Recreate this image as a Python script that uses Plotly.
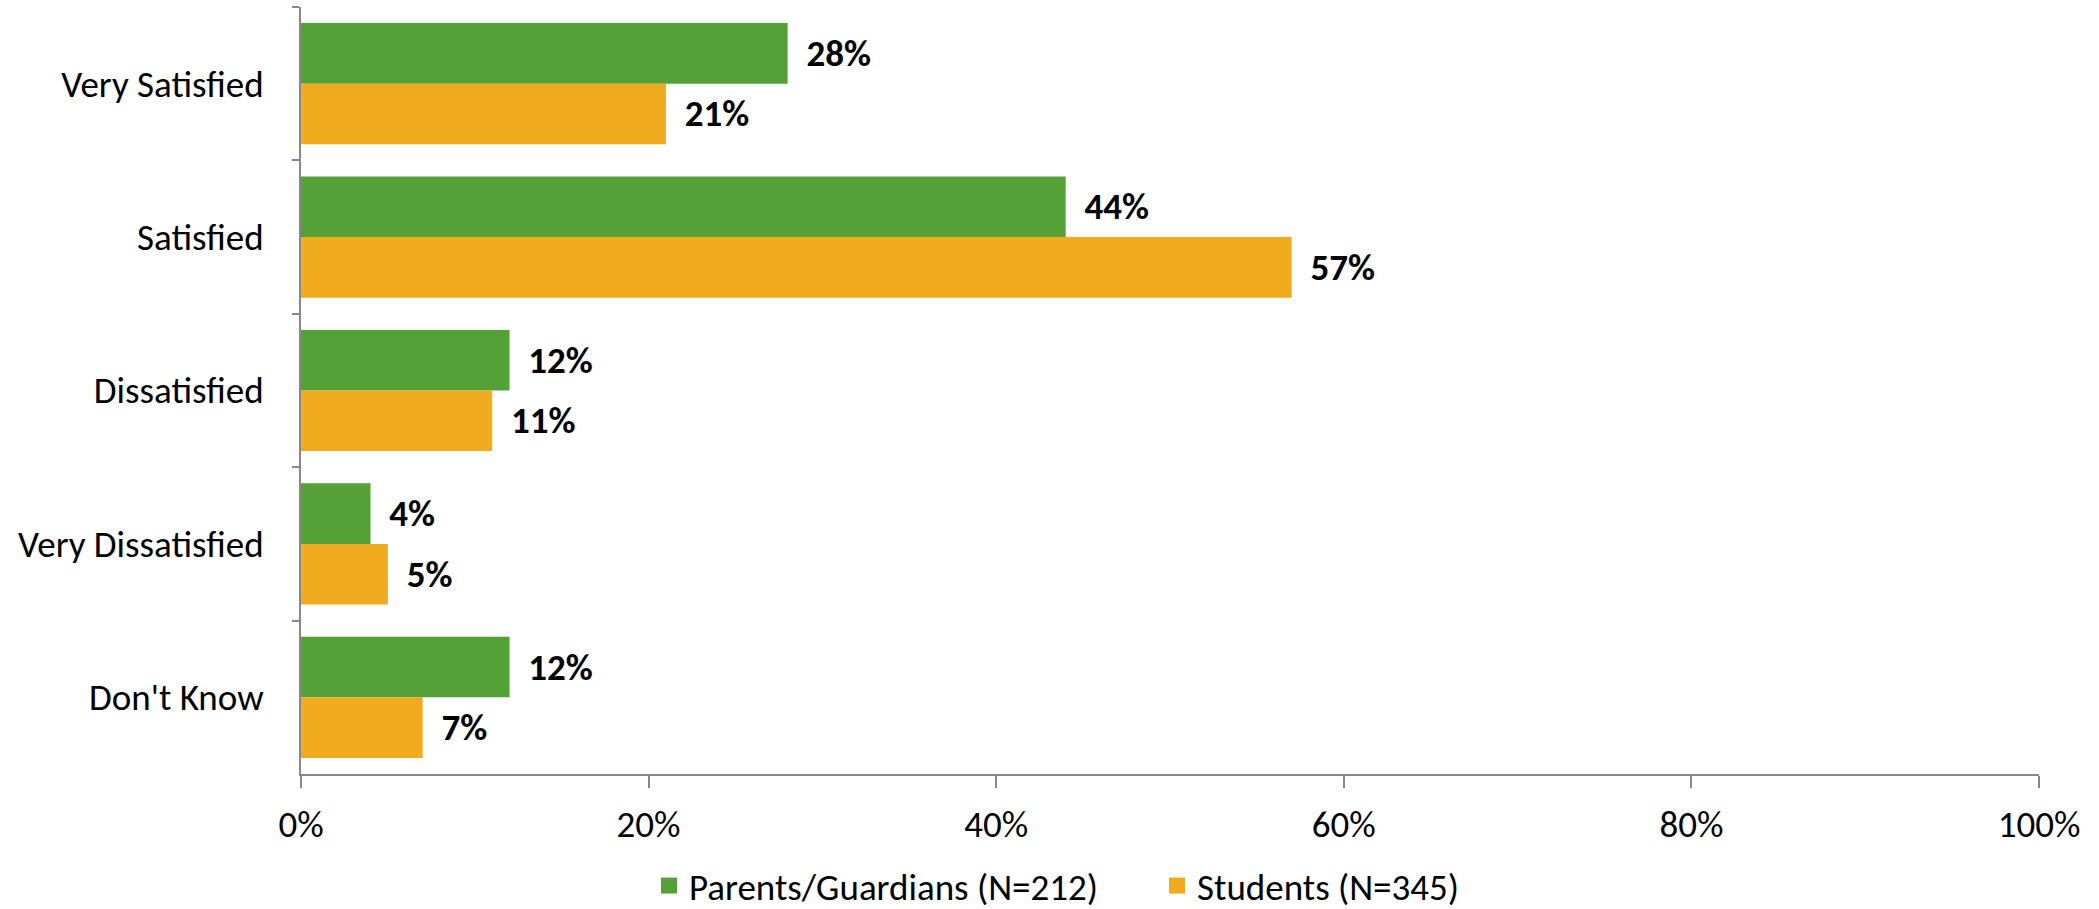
import plotly.graph_objects as go

categories = ["Very Satisfied", "Satisfied", "Dissatisfied", "Very Dissatisfied", "Don't Know"]
parents = [0.28, 0.44, 0.12, 0.04, 0.12]
students = [0.21, 0.57, 0.11, 0.05, 0.07]
series_names = ["Parents/Guardians (N=212)", "Students (N=345)"]
x_ticks = [0, 0.2, 0.4, 0.6, 0.8, 1.0]
x_tick_labels = ["0%", "20%", "40%", "60%", "80%", "100%"]

FONT = "Carlito, Calibri, Lato, sans-serif"
FS = 37
GREEN = "#54A138"
ORANGE = "#F0AB1E"
AXIS = "#888888"

fig = go.Figure()
for name, vals, col in [(series_names[0], parents, GREEN), (series_names[1], students, ORANGE)]:
    fig.add_trace(go.Bar(
        y=categories, x=vals, name=name, orientation="h", showlegend=False,
        marker=dict(color=col, line=dict(width=0)),
        texttemplate="\u00a0\u2009%{x:.0%}", textposition="outside",
        textfont=dict(family=FONT, size=FS, color="black", weight="bold"),
        constraintext="none", cliponaxis=False,
    ))
# legend entries with larger square swatches
for name, col in [(series_names[0], GREEN), (series_names[1], ORANGE)]:
    fig.add_trace(go.Scatter(
        x=[None], y=[None], mode="markers", name=name, showlegend=True,
        marker=dict(symbol="square", size=21, color=col),
    ))

fig.update_layout(
    width=2099, height=909,
    barmode="group", bargap=0.21, bargroupgap=0,
    plot_bgcolor="white", paper_bgcolor="white",
    margin=dict(l=301, r=60, t=7, b=135, autoexpand=False),
    font=dict(family=FONT, size=FS, color="black"),
    showlegend=True,
    legend=dict(orientation="h", xref="container", yref="container",
                x=649 / 2099, xanchor="left", y=1 - 886 / 909, yanchor="middle",
                font=dict(family=FONT, size=FS, color="black"),
                entrywidth=463, entrywidthmode="pixels",
                itemwidth=30, tracegroupgap=0),
    xaxis=dict(range=[0, 1], tickvals=x_ticks, ticktext=x_tick_labels, automargin=False,
               showgrid=False, zeroline=False, showline=True, linecolor=AXIS, linewidth=2,
               ticks="outside", ticklen=12, tickwidth=2, tickcolor=AXIS, ticklabelstandoff=5,
               tickfont=dict(family=FONT, size=FS, color="black")),
    yaxis=dict(autorange="reversed", showgrid=False, showline=True, linecolor=AXIS, linewidth=2,
               automargin=False,
               ticks="outside", tickson="boundaries", ticklen=7, tickwidth=2, tickcolor=AXIS,
               tickfont=dict(family=FONT, size=FS, color="black"), ticklabelstandoff=28),
)

fig.write_html("out.html", config={"displayModeBar": False},
               post_script="document.body.style.margin='0px';")
